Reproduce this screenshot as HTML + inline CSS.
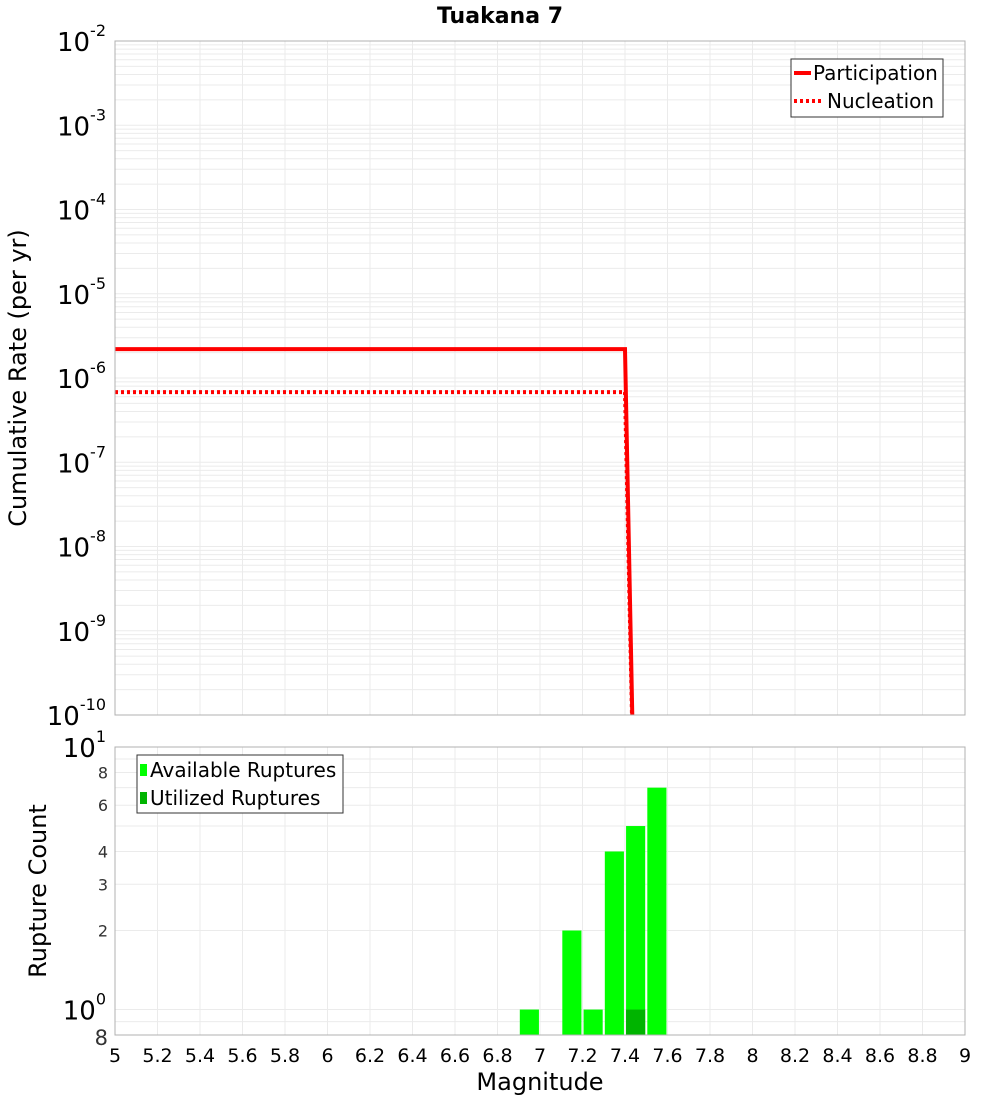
<!DOCTYPE html>
<html><head><meta charset="utf-8"><style>
body{margin:0;background:#fff;font-family:"Liberation Sans","DejaVu Sans",sans-serif}
svg{display:block}
</style></head><body>
<svg id="c" width="1000" height="1100" xmlns="http://www.w3.org/2000/svg" font-family="DejaVu Sans, Liberation Sans, sans-serif"></svg>
<script>
const partMag=[5,7.4,7.45];
const partRate=[2.2e-6,2.2e-6,1e-12];
const nuclMag=[5,7.4,7.45];
const nuclRate=[6.8e-7,6.8e-7,1e-12];
const binMag=[6.95,7.15,7.25,7.35,7.45,7.55];
const availCount=[1,2,1,4,5,7];
const utilMag=[7.45];
const utilCount=[1];
const xTicks=["5","5.2","5.4","5.6","5.8","6","6.2","6.4","6.6","6.8","7","7.2","7.4","7.6","7.8","8","8.2","8.4","8.6","8.8","9"];
const topExp=[-2,-3,-4,-5,-6,-7,-8,-9,-10];

const svg=document.getElementById('c');const NS='http://www.w3.org/2000/svg';
function el(t,a,p){const e=document.createElementNS(NS,t);for(const k in a)e.setAttribute(k,a[k]);(p||svg).appendChild(e);return e;}
const X0=115,X1=965;
const x=m=>X0+(m-5)/4*(X1-X0);
const T0=41,T1=715;
const yT=v=>T0+(-2-Math.log10(v))/8*(T1-T0);
const B0=747,B1=1035,bmin=Math.log10(0.8);
const yB=v=>B1-(Math.log10(v)-bmin)/(1-bmin)*(B1-B0);

const gT=el('g',{});
for(let e=-10;e<-2;e++)for(let k=1;k<10;k++){const y=yT(k*Math.pow(10,e));el('line',{x1:X0,x2:X1,y1:y,y2:y,stroke:'#ebebeb','stroke-width':1},gT);}
xTicks.forEach(t=>{const xx=x(+t);el('line',{x1:xx,x2:xx,y1:T0,y2:T1,stroke:'#ebebeb'},gT);});
const gB=el('g',{});
[0.8,0.9,1,2,3,4,5,6,7,8,9,10].forEach(v=>{const y=yB(v);el('line',{x1:X0,x2:X1,y1:y,y2:y,stroke:'#ebebeb'},gB);});
xTicks.forEach(t=>{const xx=x(+t);el('line',{x1:xx,x2:xx,y1:B0,y2:B1,stroke:'#ebebeb'},gB);});

const defs=el('defs',{});
const cp=el('clipPath',{id:'ct'},defs);el('rect',{x:X0,y:T0,width:X1-X0,height:T1-T0},cp);
const lines=el('g',{'clip-path':'url(#ct)'});
function poly(ms,vs,dash,name){const p=el('polyline',{points:ms.map((m,i)=>x(m)+','+yT(vs[i])).join(' '),fill:'none',stroke:'#ff0000','stroke-width':4,'stroke-dasharray':dash||'none'},lines);}
poly(nuclMag,nuclRate,'3,3','nucleation-line');
poly(partMag,partRate,null,'participation-line');

binMag.forEach((m,i)=>{const r=el('rect',{x:x(m-0.045),y:yB(availCount[i]),width:x(0.09)-x(0),height:B1-yB(availCount[i]),fill:'#00ff00'});});
utilMag.forEach((m,i)=>{const r=el('rect',{x:x(m-0.045),y:yB(utilCount[i]),width:x(0.09)-x(0),height:B1-yB(utilCount[i]),fill:'#00b400'});});

el('rect',{x:X0,y:T0,width:X1-X0,height:T1-T0,fill:'none',stroke:'#b0b0b0'});
el('rect',{x:X0,y:B0,width:X1-X0,height:B1-B0,fill:'none',stroke:'#b0b0b0'});

topExp.forEach(e=>{const y=yT(Math.pow(10,e));const t=el('text',{x:106,y:y+10,'text-anchor':'end','font-size':26,fill:'#000'});t.textContent='10';el('tspan',{dy:-15,'font-size':16},t).textContent=String(e);});
function bl(v,txt,sup,fs){const y=yB(v);const t=el('text',{x:sup?106:108,y:y+(fs>20?10:6),'text-anchor':'end','font-size':fs,fill:sup?'#000':'#333'});t.textContent=txt;if(sup)el('tspan',{dy:-15,'font-size':16},t).textContent=sup;}
bl(10,'10','1',26);bl(1,'10','0',26);bl(0.8,'8','',21);
[8,6,4,3,2].forEach(v=>bl(v,String(v),'',16));
xTicks.forEach(t=>{const e=el('text',{x:x(+t),y:1062,'text-anchor':'middle','font-size':19,fill:'#000'});e.textContent=t;});

function txt(s,a,name){const e=el('text',a);e.textContent=s;return e;}
txt('Tuakana 7',{x:500,y:23,'text-anchor':'middle','font-size':22,'font-weight':'bold'},'chart-title');
txt('Magnitude',{x:540,y:1090,'text-anchor':'middle','font-size':24},'x-axis-title');
txt('Cumulative Rate (per yr)',{x:0,y:0,transform:'translate(26,378) rotate(-90)','text-anchor':'middle','font-size':24},'top-y-axis-title');
txt('Rupture Count',{x:0,y:0,transform:'translate(46,891) rotate(-90)','text-anchor':'middle','font-size':24},'bottom-y-axis-title');

const lg=el('g',{});
el('rect',{x:791,y:59,width:152,height:58,fill:'#fff',stroke:'#333'},lg);
el('line',{x1:794,x2:811,y1:73,y2:73,stroke:'#f00','stroke-width':4},lg);
el('line',{x1:794,x2:822,y1:101,y2:101,stroke:'#f00','stroke-width':4,'stroke-dasharray':'3,3'},lg);
txt('Participation',{x:813,y:80,'font-size':20},'legend-participation');
txt('Nucleation',{x:827,y:108,'font-size':20},'legend-nucleation');
const lg2=el('g',{});
el('rect',{x:137,y:755,width:206,height:58,fill:'#fff',stroke:'#333'},lg2);
el('rect',{x:140,y:764,width:7,height:12,fill:'#00ff00'},lg2);
el('rect',{x:140,y:792,width:7,height:12,fill:'#00b400'},lg2);
txt('Available Ruptures',{x:150,y:777,'font-size':20},'legend-available');
txt('Utilized Ruptures',{x:150,y:805,'font-size':20},'legend-utilized');
</script>
</body></html>
